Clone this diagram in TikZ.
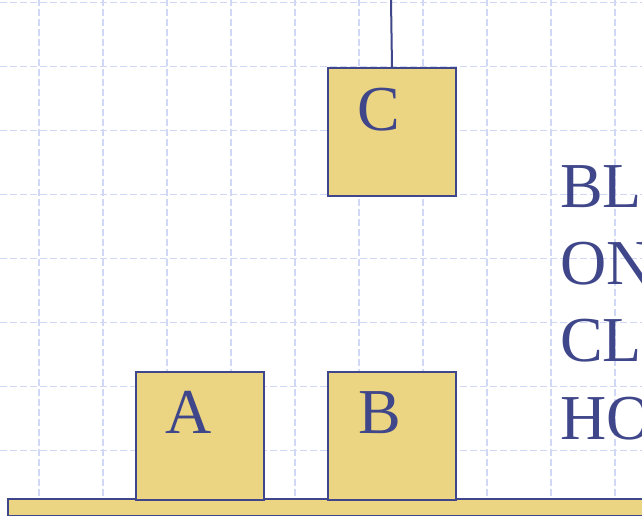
\documentclass[tikz,border=0pt]{standalone}
\usepackage{fontspec}
\setmainfont{Liberation Serif}
\definecolor{gridc}{RGB}{208,216,245}
\definecolor{blockfill}{RGB}{235,213,130}
\definecolor{inkc}{RGB}{63,70,137}
\tikzset{
  gridline/.style={draw=gridc, line width=1.3pt, dash pattern=on 7pt off 3pt},
  blockbox/.style={draw=inkc, fill=blockfill, line width=2pt, minimum width=128pt, minimum height=128pt, inner sep=0pt, anchor=north west},
  blocklabel/.style={text=inkc, font=\fontsize{64}{70}\selectfont, anchor=base west, inner sep=0pt},
}
\begin{document}
\begin{tikzpicture}[x=1pt,y=1pt]
\useasboundingbox (0,0) rectangle (642,516);
\clip (0,0) rectangle (642,516);
\fill[white] (0,0) rectangle (642,516);
% grid
\foreach \gx in {39,103,167,231,295,359,423,487,551,615}
  \draw[gridline] (\gx,0) -- (\gx,516);
\foreach \gy in {2.5,66.5,130.5,194.5,258.5,322.5,386.5,450.5}
  \draw[gridline] (0,516-\gy) -- (642,516-\gy);
% table
\node[draw=inkc, fill=blockfill, line width=2pt, minimum width=660pt, minimum height=17pt, inner sep=0pt, anchor=north west] (table) at (7,516-498) {};
% blocks
\node[blockbox] (A) at (135,516-371) {};
\node[blockbox] (B) at (327,516-371) {};
\node[blockbox] (C) at (327,516-67) {};
\coordinate (hook) at (391,516);
\draw[draw=inkc, line width=2pt] (hook) -- (C.north);
% labels
\node[blocklabel] (la) at (165,516-434) {A};
\node[blocklabel] (lb) at (358,516-434) {B};
\node[blocklabel] (lc) at (357,516-131) {C};
% predicates (cut off at the right edge, as in the reference)
\node[blocklabel] (t1) at (560,516-208) {BL};
\node[blocklabel] (t2) at (560,516-285) {ON};
\node[blocklabel] (t3) at (560,516-362) {CL};
\node[blocklabel] (t4) at (560,516-440) {HO};
\end{tikzpicture}
\end{document}
